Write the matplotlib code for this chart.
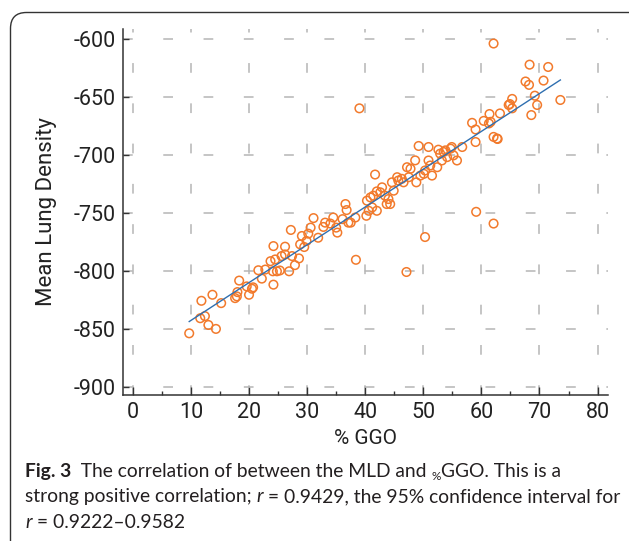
import numpy as np
import matplotlib
matplotlib.use("Agg")
import matplotlib.pyplot as plt
from matplotlib.patches import FancyBboxPatch
from matplotlib.transforms import IdentityTransform

# %GGO values
ggo = [
    9.7, 11.8, 11.6, 12.4, 13.0, 13.7, 14.3, 15.2, 17.6, 17.9,
    18.0, 18.3, 19.6, 20.0, 20.5, 20.7, 21.6, 22.2, 22.8, 23.7,
    24.1, 24.2, 24.2, 24.5, 24.8, 25.3, 25.6, 26.2, 26.2, 26.9,
    27.2, 27.4, 27.9, 28.6, 28.8, 29.1, 29.5, 29.9, 30.2, 30.6,
    31.1, 31.9, 32.8, 33.1, 34.0, 34.5, 35.2, 35.0, 36.1, 36.6,
    36.8, 37.1, 37.5, 38.3, 38.4, 39.0,
    40.2, 40.6, 41.2, 40.3, 40.9, 41.4, 41.7, 42.0, 42.0, 42.6,
    42.9, 43.4, 43.7, 44.0, 44.3, 44.6, 44.9, 45.5, 45.7, 46.3,
    46.6, 47.2, 47.5, 47.8, 48.6, 48.8, 49.2, 49.5, 50.1, 50.3,
    50.9, 50.9, 51.2, 51.5, 52.4, 52.6, 52.9, 53.2, 53.5, 53.8,
    54.1, 54.7, 54.9, 55.2, 55.8, 56.7, 58.4, 59.0, 59.0, 60.4,
    61.4, 61.6, 62.1, 62.7, 63.2, 64.7, 65.3, 47.1, 50.3, 59.1,
    62.1, 62.1, 68.3, 71.5, 67.6, 68.2, 70.7, 69.2, 69.6, 73.6,
    68.6, 65.3, 64.9, 61.3, 62.8,
]
# mean lung density, same order
mld = [
    -853.8, -825.8, -840.8, -839.0, -846.6, -820.6, -850.0, -827.8, -823.5, -822.0,
    -818.3, -808.4, -813.4, -820.6, -815.4, -814.2, -799.5, -806.7, -798.9, -791.7,
    -800.4, -811.9, -778.7, -790.2, -800.4, -799.7, -787.3, -785.9, -779.2, -800.4,
    -764.8, -787.3, -795.1, -789.3, -777.2, -770.0, -779.5, -774.3, -768.0, -762.8,
    -754.6, -771.5, -762.2, -758.5, -759.3, -754.1, -767.1, -762.8, -755.5, -742.5,
    -747.7, -758.5, -758.5, -754.1, -790.5, -660.1,
    -752.6, -748.3, -745.4, -739.6, -736.8, -735.3, -717.1, -731.6, -748.3, -732.4,
    -728.1, -735.3, -742.5, -738.2, -742.5, -723.8, -731.0, -719.4, -722.3, -720.8,
    -723.8, -710.8, -719.4, -712.1, -704.9, -723.8, -692.5, -718.0, -716.5, -713.6,
    -693.4, -705.0, -709.3, -718.0, -710.8, -695.7, -699.1, -705.0, -697.7, -696.3,
    -702.1, -694.8, -693.4, -700.6, -705.0, -693.4, -672.6, -678.3, -689.1, -670.9,
    -665.0, -671.7, -684.7, -686.1, -664.5, -657.2, -660.1, -801.0, -770.9, -749.2,
    -759.3, -604.3, -622.5, -624.5, -637.0, -639.9, -636.2, -649.2, -657.2, -652.9,
    -665.9, -652.0, -656.4, -673.1, -686.5,
]

x_ticks = [0, 10, 20, 30, 40, 50, 60, 70, 80]
y_ticks = [-900, -850, -800, -750, -700, -650, -600]

plt.rcParams["font.family"] = ["Roboto", "DejaVu Sans"]
plt.rcParams["lines.scale_dashes"] = False
plt.rcParams["axes.unicode_minus"] = False

W, H = 629, 541
fig = plt.figure(figsize=(W / 100, H / 100), dpi=100)
fig.patch.set_facecolor("white")

# rounded frame around the figure (runs off the right and bottom edges)
frame = FancyBboxPatch((10.5, -40), 700, 541 - 12.5 + 40,
                       boxstyle="round,pad=0,rounding_size=16",
                       transform=IdentityTransform(), facecolor="none",
                       edgecolor="#333333", linewidth=1.0, zorder=0)
fig.patches.append(frame)

ax = fig.add_axes([123 / W, 1 - 395 / H, (608 - 123) / W, (395 - 29) / H])
ax.set_xlim(-1.7, 81.8)
ax.set_ylim(-906.9, -591.8)

ax.spines["top"].set_visible(False)
ax.spines["right"].set_visible(False)
for s in ["left", "bottom"]:
    ax.spines[s].set_color("#333333")
    ax.spines[s].set_linewidth(1.1)

ax.set_xticks(x_ticks)
ax.set_xticks(np.arange(5, 80, 10), minor=True)
ax.set_yticks(y_ticks)
ax.tick_params(axis="x", which="major", direction="in", length=6, width=1.0,
               color="#333333", labelsize=15.5, pad=5, labelcolor="#222222")
ax.tick_params(axis="x", which="minor", direction="in", length=3, width=1.0,
               color="#333333")
ax.tick_params(axis="y", which="major", direction="in", length=4, width=1.0,
               color="#333333", labelsize=15.5, pad=5, labelcolor="#222222")

ax.grid(True, which="major", color="#b5b5b5", linewidth=1.1,
        linestyle=(0, (7, 22)))
ax.set_axisbelow(True)

ax.scatter(ggo, mld, s=38, facecolors="none", edgecolors="#f27a2c",
           linewidths=1.1, zorder=3)

# least squares line over the data range
k, b = np.polyfit(ggo, mld, 1)
xs = np.array([min(ggo), max(ggo)])
ax.plot(xs, k * xs + b, color="#2f6fb0", linewidth=1.0, zorder=4)

ax.set_xlabel("% GGO", fontsize=15, color="#222222", labelpad=4)
ax.set_ylabel("Mean Lung Density", fontsize=16, color="#222222", labelpad=12)

# caption, drawn piece by piece so bold / italic / subscript sit inline
renderer = fig.canvas.get_renderer()
cap_font = ["Lato", "DejaVu Sans"]
cap_size = 13.9
cap_color = "#231f20"


def draw_runs(x_px, y_px, runs):
    for txt, kw in runs:
        dy = kw.pop("dy", 0)
        size = kw.pop("size", cap_size)
        t = fig.text(x_px / W, 1 - (y_px - dy) / H, txt, fontsize=size,
                     family=cap_font, color=cap_color, va="baseline",
                     ha="left", **kw)
        x_px += t.get_window_extent(renderer).width


draw_runs(25, 477, [
    ("Fig. 3", dict(weight="bold")),
    ("  The correlation of between the MLD and ", {}),
    ("%", dict(size=8.5, dy=-3)),
    ("GGO. This is a", {}),
])
draw_runs(25, 502, [
    ("strong positive correlation; ", {}),
    ("r", dict(style="italic")),
    (" = 0.9429, the 95% confidence interval for", {}),
])
draw_runs(25, 528, [
    ("r", dict(style="italic")),
    (" = 0.9222\u20130.9582", {}),
])

fig.savefig("out.png", dpi=100)
